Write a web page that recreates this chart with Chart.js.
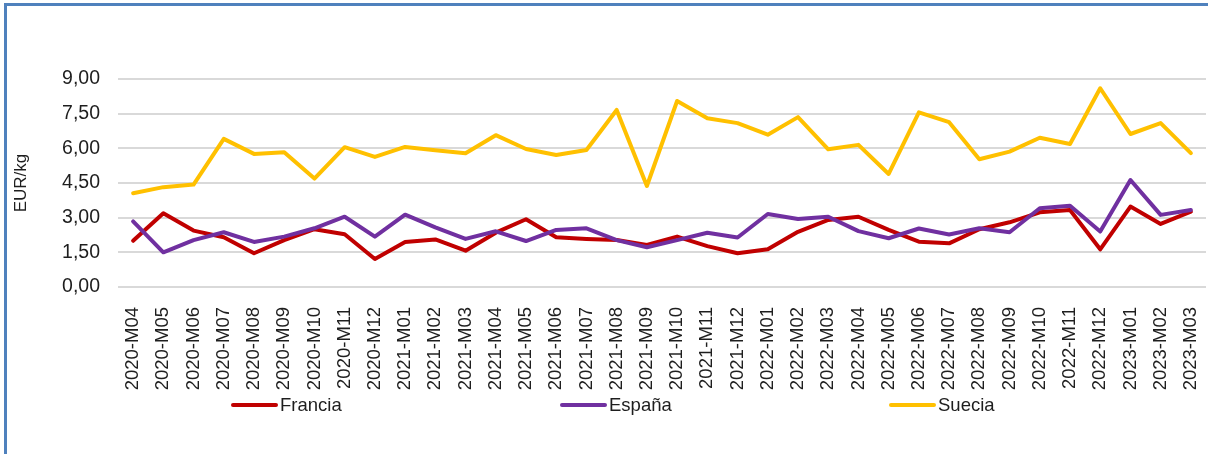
<!DOCTYPE html>
<html lang="es">
<head>
<meta charset="utf-8">
<title>Precio EUR/kg</title>
<script src="https://cdn.jsdelivr.net/npm/chart.js@4.4.1/dist/chart.umd.min.js"></script>
<style>
    html, body {
        margin: 0;
        padding: 0;
        background: #ffffff;
        width: 1208px;
        height: 454px;
        overflow: hidden;
        font-family: "Liberation Sans", Arial, sans-serif;
    }
    #frame {
        position: absolute;
        left: 4px;
        top: 3px;
        width: 1400px;
        height: 600px;
        border-left: 3px solid #4f81bd;
        border-top: 3px solid #4f81bd;
    }
    #chart {
        position: absolute;
        left: 0;
        top: 0;
    }
    #legend {
        position: absolute;
        left: 231px;
        top: 394px;
        display: flex;
        color: #1e1e1e;
        font-size: 18.5px;
        line-height: 22px;
    }
    #legend .item {
        width: 329px;
        display: flex;
        align-items: center;
    }
    #legend .swatch {
        display: inline-block;
        width: 47px;
        height: 4px;
        border-radius: 2px;
        margin-right: 2px;
    }
</style>
</head>
<body>
<div id="frame"></div>
<canvas id="chart" width="1208" height="454"></canvas>
<div id="legend"></div>

<script>
// Data (EUR/kg)
const months = [
    "2020-M04", "2020-M05", "2020-M06", "2020-M07", "2020-M08", "2020-M09",
    "2020-M10", "2020-M11", "2020-M12", "2021-M01", "2021-M02", "2021-M03",
    "2021-M04", "2021-M05", "2021-M06", "2021-M07", "2021-M08", "2021-M09",
    "2021-M10", "2021-M11", "2021-M12", "2022-M01", "2022-M02", "2022-M03",
    "2022-M04", "2022-M05", "2022-M06", "2022-M07", "2022-M08", "2022-M09",
    "2022-M10", "2022-M11", "2022-M12", "2023-M01", "2023-M02", "2023-M03",
];

const francia = [
    2.00, 3.19, 2.44, 2.15, 1.46, 2.03, 2.50, 2.28, 1.21, 1.95, 2.06, 1.57,
    2.35, 2.93, 2.15, 2.08, 2.03, 1.82, 2.18, 1.77, 1.46, 1.63, 2.39, 2.90,
    3.04, 2.47, 1.96, 1.89, 2.50, 2.80, 3.23, 3.33, 1.63, 3.48, 2.73, 3.26,
];

const espana = [
    2.84, 1.50, 2.03, 2.37, 1.95, 2.18, 2.54, 3.04, 2.18, 3.13, 2.58, 2.08,
    2.41, 1.99, 2.47, 2.54, 2.03, 1.72, 2.03, 2.35, 2.14, 3.16, 2.94, 3.04,
    2.42, 2.11, 2.53, 2.27, 2.54, 2.37, 3.41, 3.52, 2.40, 4.63, 3.12, 3.33,
];

const suecia = [
    4.06, 4.32, 4.43, 6.41, 5.76, 5.83, 4.69, 6.05, 5.63, 6.06, 5.92, 5.79,
    6.57, 5.97, 5.71, 5.93, 7.66, 4.37, 8.05, 7.30, 7.09, 6.59, 7.35, 5.96,
    6.15, 4.89, 7.56, 7.13, 5.53, 5.86, 6.46, 6.19, 8.60, 6.62, 7.09, 5.79,
];

const seriesNames = ["Francia", "España", "Suecia"];
const seriesColors = ["#c00000", "#7030a0", "#ffc000"];
const yTicks = [0, 1.5, 3, 4.5, 6, 7.5, 9];

const FONT = "'Liberation Sans', Arial, sans-serif";
const TEXT = "#1e1e1e";

document.addEventListener("DOMContentLoaded", function () {
    const seriesValues = [francia, espana, suecia];

    const datasets = seriesNames.map((name, i) => ({
        label: name,
        data: seriesValues[i],
        borderColor: seriesColors[i],
        backgroundColor: seriesColors[i],
        borderWidth: 4,
        borderJoinStyle: "round",
        borderCapStyle: "round",
        pointRadius: 0,
        tension: 0,
        fill: false,
        // Excel draws the last series on top
        order: seriesNames.length - i,
    }));

    new Chart(document.getElementById("chart"), {
        type: "line",
        data: {
            labels: months,
            datasets: datasets,
        },
        options: {
            responsive: false,
            devicePixelRatio: 1,
            animation: false,
            layout: {
                padding: { top: 79, right: 2, bottom: 0, left: 0 },
            },
            plugins: {
                legend: { display: false },
                tooltip: { enabled: false },
            },
            scales: {
                x: {
                    type: "category",
                    offset: true,
                    grid: { display: false },
                    border: { display: false },
                    ticks: {
                        autoSkip: false,
                        maxRotation: 90,
                        minRotation: 90,
                        padding: 12,
                        color: TEXT,
                        font: { family: FONT, size: 18.5 },
                    },
                    afterFit: function (scale) {
                        scale.height = 167;
                        // the rotated end labels do not need extra room
                        scale.paddingLeft = 0;
                        scale.paddingRight = 0;
                    },
                },
                y: {
                    min: yTicks[0],
                    max: yTicks[yTicks.length - 1],
                    afterBuildTicks: function (scale) {
                        scale.ticks = yTicks.map((v) => ({ value: v }));
                    },
                    grid: {
                        color: "#d9d9d9",
                        lineWidth: 2,
                        drawTicks: false,
                    },
                    border: { display: false },
                    ticks: {
                        padding: 18,
                        color: TEXT,
                        font: { family: FONT, size: 19.5 },
                        callback: function (value) {
                            return Number(value).toFixed(2).replace(".", ",");
                        },
                    },
                    title: {
                        display: true,
                        text: "EUR/kg",
                        color: TEXT,
                        font: { family: FONT, size: 17 },
                        padding: { top: 11, bottom: 0 },
                    },
                    afterFit: function (scale) {
                        scale.width = 118;
                    },
                },
            },
        },
    });

    // Legend in the Excel style: equal slots, long line sample
    const legend = document.getElementById("legend");
    seriesNames.forEach((name, i) => {
        const item = document.createElement("div");
        item.className = "item";
        const swatch = document.createElement("span");
        swatch.className = "swatch";
        swatch.style.background = seriesColors[i];
        const label = document.createElement("span");
        label.textContent = name;
        item.appendChild(swatch);
        item.appendChild(label);
        legend.appendChild(item);
    });
});
</script>
</body>
</html>
